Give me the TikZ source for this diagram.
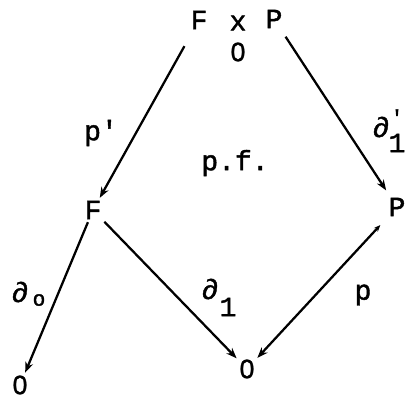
\documentclass[tikz,border=0pt]{standalone}
\usepackage{fontspec}
\usetikzlibrary{arrows.meta}
\newfontfamily\typew[FakeBold=1.5]{Liberation Mono}
\newfontfamily\zerofont[FakeBold=1]{Liberation Sans}

\begin{document}
\begin{tikzpicture}[
  x=0.75pt, y=-0.75pt,
  obj/.style={font=\typew\fontsize{21}{21}\selectfont, inner sep=2pt},
  zero/.style={font=\zerofont\fontsize{20}{20}\selectfont, inner sep=2pt},
  lab/.style={font=\typew\fontsize{21}{21}\selectfont, inner sep=0pt},
  sml/.style={font=\typew\fontsize{16}{16}\selectfont, inner sep=0pt},
  arr/.style={-{Stealth[length=8pt,width=6pt]}, line width=1.7pt}
]
\useasboundingbox (0,0) rectangle (406,401);
% fibre product F x_0 P
\node[obj] (topF) at (199,20) {F};
\node[lab] (times) at (238,23) {x};
\node[zero, inner sep=0pt] (sub0) at (238,52) {0};
\node[obj] (topP) at (274,19) {P};
% middle and bottom objects
\node[obj] (midF) at (93,210) {F};
\node[obj] (midP) at (397,207) {P};
\node[zero] (zeroL) at (20,385) {0};
\node[zero] (zeroM) at (247,369) {0};
% labels
\node[lab] (lp) at (101,133) {p'};
\node[lab] (lpf) at (235,163) {p.f.};
\node[lab] (ld) at (381,127) {∂};
\node[sml] (ldprime) at (397,117) {'};
\node[lab] (ldone) at (397,143) {1};
\node[lab] (ldo) at (20,292) {∂};
\node[sml] (ldosub) at (39,300) {o};
\node[lab] (ldm) at (210,289) {∂};
\node[lab] (ldmone) at (228,307) {1};
\node[lab] (lq) at (363,295) {p};

\draw[arr, shorten <=12pt] (topF) -- (midF);
\draw[arr, shorten <=5pt, shorten >=4pt] (topP) -- (midP);
\draw[arr] (midF) -- (zeroL);
\draw[arr] (midF) -- (zeroM);
\draw[arr, {Stealth[length=5pt,width=4pt]}-{Stealth[length=8pt,width=6pt]}, shorten <=6pt] (midP) -- (zeroM);
\end{tikzpicture}
\end{document}
